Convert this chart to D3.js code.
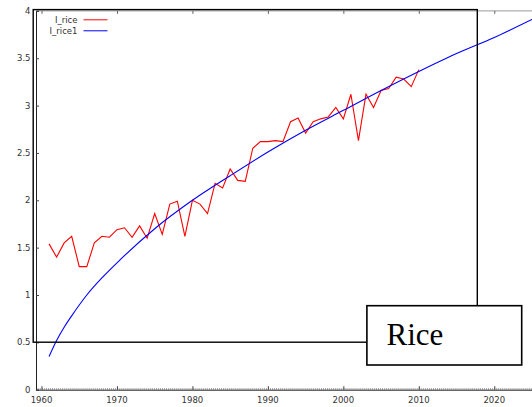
<!DOCTYPE html>
<html><head><meta charset="utf-8">
<script src="https://cdn.jsdelivr.net/npm/d3@7"></script>
<style>
html,body{margin:0;padding:0;background:#fff;}
svg{display:block;}
text{font-family:"DejaVu Sans",Verdana,sans-serif;}
text.serif{font-family:"Liberation Serif","Times New Roman",serif;}
</style></head>
<body>
<svg id="chart" width="532" height="407"></svg>
<script>
// ---- data ----
const years = [1961,1962,1963,1964,1965,1966,1967,1968,1969,1970,1971,1972,1973,1974,1975,1976,1977,1978,1979,1980,
  1981,1982,1983,1984,1985,1986,1987,1988,1989,1990,1991,1992,1993,1994,1995,1996,1997,1998,1999,2000,
  2001,2002,2003,2004,2005,2006,2007,2008,2009,2010];
const riceValues = [1.54,1.40,1.55,1.62,1.30,1.30,1.55,1.62,1.61,1.69,1.71,1.61,1.73,1.60,1.86,1.64,1.96,1.99,1.62,2.00,
  1.96,1.86,2.18,2.13,2.33,2.21,2.20,2.55,2.62,2.62,2.63,2.62,2.83,2.87,2.71,2.83,2.86,2.88,2.98,2.86,
  3.12,2.63,3.12,2.98,3.16,3.18,3.30,3.28,3.20,3.38];
const fitYears = [1961,1962,1963,1964,1966,1968,1970,1975,1980,1985,1990,1995,2000,2005,2010,2015,2020,2025];
const fitValues = [0.35,0.52,0.66,0.78,1.00,1.18,1.34,1.70,2.00,2.26,2.51,2.74,2.95,3.16,3.36,3.55,3.72,3.91];
const xTicks = [1960,1970,1980,1990,2000,2010,2020];
const yTicks = [0,0.5,1,1.5,2,2.5,3,3.5,4];
const yTickLabels = ["0","0.5","1","1.5","2","2.5","3","3.5","4"];
const seriesNames = ["I_rice","I_rice1"];
const seriesColors = ["#ff0000","#0000ff"];
const boxLabel = "Rice";

// ---- layout ----
const svg = d3.select("#chart");
const x = d3.scaleLinear().domain([1959.27, 2025.0]).range([36, 532]);
const y = d3.scaleLinear().domain([0, 4]).range([389.7, 10.9]);

// top frame line (light)
svg.append("line").attr("x1",36).attr("x2",532).attr("y1",y(4)).attr("y2",y(4))
  .attr("stroke","#999").attr("stroke-width",1);
// top ticks
svg.append("g").attr("transform",`translate(0,${y(4)})`)
  .call(d3.axisBottom(x).tickValues(xTicks).tickSize(3).tickFormat(""))
  .call(g=>g.select(".domain").remove())
  .call(g=>g.selectAll("line").attr("stroke","#666"));

// bottom minor ticks
const minor = d3.range(1959.5, 2025, 0.27);
svg.append("g").attr("transform",`translate(0,${y(0)})`)
  .call(d3.axisTop(x).tickValues(minor).tickSize(1.5).tickFormat(""))
  .call(g=>g.select(".domain").remove())
  .call(g=>g.selectAll("line").attr("stroke","#777").attr("stroke-width",0.8));

// bottom axis
svg.append("g").attr("transform",`translate(0,${y(0)})`)
  .call(d3.axisTop(x).tickValues(xTicks).tickSize(3.5).tickFormat(""))
  .call(g=>g.select(".domain").attr("stroke","#222"))
  .call(g=>g.selectAll("line").attr("stroke","#444"));
svg.append("g").selectAll("text").data(xTicks).join("text")
  .attr("x",d=>x(d)).attr("y",403).attr("text-anchor","middle")
  .attr("font-size","8.5px").attr("fill","#333").text(d=>d);

// left axis
svg.append("g").attr("transform",`translate(36,0)`)
  .call(d3.axisRight(y).tickValues(yTicks).tickSize(3).tickFormat(""))
  .call(g=>g.select(".domain").attr("stroke","#222"))
  .call(g=>g.selectAll("line").attr("stroke","#444"));
svg.append("g").selectAll("text").data(yTicks).join("text")
  .attr("x",30.5).attr("y",d=>y(d)).attr("dy","0.35em").attr("text-anchor","end")
  .attr("font-size","8.5px").attr("fill","#333").text((d,i)=>yTickLabels[i]);

// lines
const lineGen = d3.line().x(d=>x(d[0])).y(d=>y(d[1]));
svg.append("path").datum(years.map((yr,i)=>[yr,riceValues[i]]))
  .attr("d",lineGen).attr("fill","none").attr("stroke",seriesColors[0]).attr("stroke-width",1.1);
svg.append("path").datum(fitYears.map((yr,i)=>[yr,fitValues[i]]))
  .attr("d",lineGen.curve(d3.curveMonotoneX)).attr("fill","none").attr("stroke",seriesColors[1]).attr("stroke-width",1.1);

// legend
seriesNames.forEach((name,i)=>{
  const ly = 19.8 + i*11;
  svg.append("text").attr("x",77.5).attr("y",ly).attr("dy","0.35em").attr("text-anchor","end")
    .attr("font-size","8.5px").attr("fill","#333").text(name);
  svg.append("line").attr("x1",83.5).attr("x2",107.5).attr("y1",ly).attr("y2",ly)
    .attr("stroke",seriesColors[i]).attr("stroke-width",1);
});

// overlay rectangle
svg.append("rect").attr("x",33.2).attr("y",9.6).attr("width",477.3-33.2).attr("height",342.2-9.6)
  .attr("fill","none").attr("stroke","#000").attr("stroke-width",1.4);

// Rice box
svg.append("rect").attr("x",366.9).attr("y",305.7).attr("width",521.7-366.9).attr("height",365-305.7)
  .attr("fill","#fff").attr("stroke","#000").attr("stroke-width",1.6);
svg.append("text").attr("class","serif").attr("x",386.5).attr("y",345)
  .attr("font-size","31px").attr("fill","#000").text(boxLabel);
</script>
</body></html>
